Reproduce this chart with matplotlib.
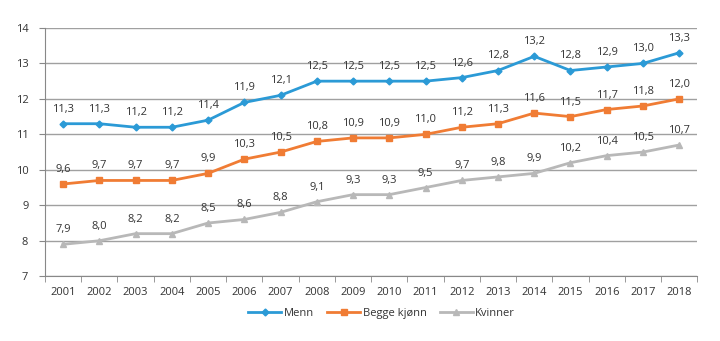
import matplotlib
matplotlib.use("Agg")
import matplotlib.pyplot as plt

years = [str(y) for y in range(2001, 2019)]
menn = [11.3, 11.3, 11.2, 11.2, 11.4, 11.9, 12.1, 12.5, 12.5, 12.5, 12.5, 12.6, 12.8, 13.2, 12.8, 12.9, 13.0, 13.3]
begge = [9.6, 9.7, 9.7, 9.7, 9.9, 10.3, 10.5, 10.8, 10.9, 10.9, 11.0, 11.2, 11.3, 11.6, 11.5, 11.7, 11.8, 12.0]
kvinner = [7.9, 8.0, 8.2, 8.2, 8.5, 8.6, 8.8, 9.1, 9.3, 9.3, 9.5, 9.7, 9.8, 9.9, 10.2, 10.4, 10.5, 10.7]

plt.rcParams['font.family'] = ['Open Sans', 'DejaVu Sans']

fig = plt.figure(figsize=(7.2, 3.41), dpi=100)
ax = fig.add_axes([0.0625, 0.19, 0.906, 0.728])

x = list(range(len(years)))
series = [
    ("Menn", menn, "#2b9ad6", "D", 3.5),
    ("Begge kjønn", begge, "#f07c34", "s", 5),
    ("Kvinner", kvinner, "#b8b8b8", "^", 5),
]
for name, vals, col, mk, ms in series:
    ax.plot(x, vals, color=col, lw=2, marker=mk, ms=ms, label=name, zorder=3)
    for xi, v in zip(x, vals):
        ax.annotate(f"{v:.1f}".replace(".", ","), (xi, v), xytext=(0, 6.5),
                    textcoords="offset points", ha="center", va="bottom",
                    fontsize=8, color="#333333", zorder=4)

ax.set_ylim(7, 14)
ax.set_xlim(-0.5, len(years) - 0.5)
ax.set_yticks(range(7, 15))
ax.set_yticklabels([str(v) for v in range(7, 15)])
ax.yaxis.grid(True, color="#a0a0a0", lw=1)
ax.set_axisbelow(True)

ax.set_xticks(x)
ax.set_xticklabels(years)
ax.set_xticks([i - 0.5 for i in range(len(years) + 1)], minor=True)
ax.tick_params(axis="x", which="major", length=0, pad=8, labelsize=8, labelcolor="#333333")
ax.tick_params(axis="x", which="minor", length=4, color="#888888")
ax.tick_params(axis="y", length=4, color="#888888", labelsize=8, labelcolor="#333333", pad=8)

for s in ["top", "right"]:
    ax.spines[s].set_visible(False)
for s in ["left", "bottom"]:
    ax.spines[s].set_color("#888888")

fig.legend(loc="center", bbox_to_anchor=(0.53, 0.082), ncol=3, frameon=False,
           fontsize=8, handlelength=3, columnspacing=1.2, handletextpad=0.2,
           labelcolor="#333333")

fig.savefig("out.png", dpi=100)
